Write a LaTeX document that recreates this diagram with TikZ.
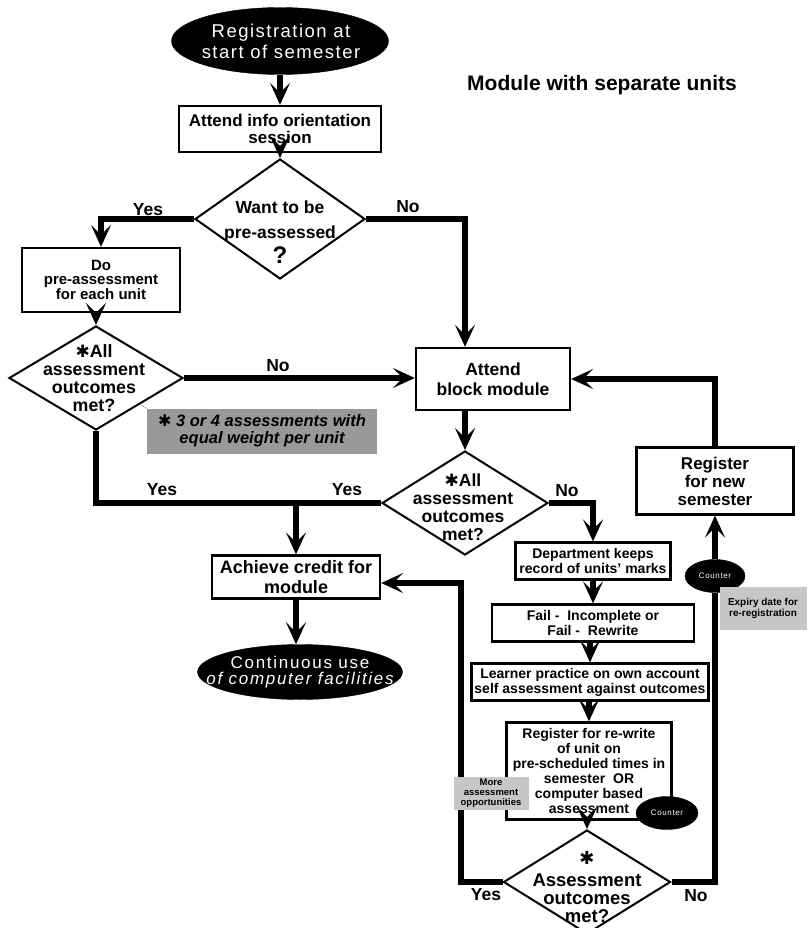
\documentclass[tikz,border=0pt]{standalone}
\usepackage{fontspec}
\setmainfont{Liberation Sans}
\newfontfamily\dingfont{DejaVu Sans}
\usetikzlibrary{shapes.geometric,arrows.meta}
\newcommand{\fsz}[2]{\fontsize{#1}{#2}\selectfont}
\newcommand{\astk}[1]{{\dingfont\fsz{#1}{#1}\bfseries ✱}}
\begin{document}
\begin{tikzpicture}[x=1pt,y=-1pt,
  box/.style={draw, line width=2.3pt, rectangle, align=center, inner sep=1pt, font=\bfseries},
  dia/.style={draw, line width=2pt, diamond, inner sep=0pt},
  oval/.style={ellipse, fill=black, draw=black, inner sep=0pt},
  ovaltext/.style={text=white, align=center, inner sep=0pt},
  diatext/.style={align=center, inner sep=0pt, font=\bfseries},
  conn/.style={line width=5.5pt},
  arr/.style={conn, -{Stealth[length=22pt,width=20pt,inset=10pt]}},
  lbl/.style={font=\bfseries\fsz{17.5}{17.5}, inner sep=0pt},
  note/.style={rectangle, inner sep=0pt, align=center, font=\bfseries}
]
\useasboundingbox (0,0) rectangle (808,928);

% title
\node[font=\bfseries\fsz{21}{21}] (title) at (602,85) {Module with separate units};

% start of the flow
\node[oval, minimum width=217pt, minimum height=67pt] (reg) at (280,41) {};
\node[ovaltext, font=\fsz{18.5}{21}\addfontfeature{LetterSpace=8}] (regt) at (281,41) {Registration at\\start of semester};

\node[box, minimum width=202pt, minimum height=46pt, font=\bfseries\fsz{17}{17.5}] (info) at (280,129) {Attend info orientation\\session};

\node[dia, minimum width=170pt, minimum height=120pt] (want) at (280,219) {};
\node[diatext, font=\bfseries\fsz{17.5}{25}] (wantt) at (280,232) {Want to be\\pre-assessed\\{\fsz{24}{24}?}};

\node[box, minimum width=158pt, minimum height=64pt, font=\bfseries\fsz{15}{13.5}] (pre) at (101,280) {Do\\pre-assessment\\for each unit};

\node[dia, minimum width=174pt, minimum height=104pt] (dia2) at (96,378) {};
\node[diatext, font=\bfseries\fsz{17.8}{18}] (dia2t) at (94,378) {\astk{17}All\\assessment\\outcomes\\met?};

\node[box, minimum width=154pt, minimum height=62pt, font=\bfseries\fsz{17.5}{20}] (block) at (493,379) {Attend\\block module};

\node[dia, minimum width=166pt, minimum height=104pt] (dia3) at (465,503) {};
\node[diatext, font=\bfseries\fsz{17.5}{18}] (dia3t) at (463,507) {\astk{17}All\\assessment\\outcomes\\met?};

\node[box, minimum width=168pt, minimum height=43pt, font=\bfseries\fsz{18}{20}] (credit) at (296,577) {Achieve credit for\\module};

\node[oval, minimum width=205pt, minimum height=55pt] (cont) at (300,672) {};
\node[ovaltext, font=\fsz{17}{16}\addfontfeature{LetterSpace=10}] (contt) at (300,672) {Continuous use\\\itshape of computer facilities};

% failure branch
\node[box, minimum width=155pt, minimum height=37pt, font=\bfseries\fsz{14}{12.5}] (dept) at (593,561) {Department keeps\\record of units' marks};
\node[box, minimum width=202pt, minimum height=37pt, font=\bfseries\fsz{14}{15}] (fail) at (593,623) {Fail -\ \ Incomplete or\\Fail -\ \ Rewrite};
\node[box, minimum width=237pt, minimum height=37pt, font=\bfseries\fsz{14}{15}] (learn) at (590,682) {Learner practice on own account\\self assessment against outcomes};
\node[box, minimum width=165pt, minimum height=97pt, font=\bfseries\fsz{14}{15}] (rew) at (589,771) {Register for re-write\\of unit on\\pre-scheduled times in\\semester\ \ OR\\computer based\\assessment};

\node[oval, minimum width=62pt, minimum height=33pt] (cnt2) at (667,813) {};
\node[ovaltext, font=\fsz{8}{8}\addfontfeature{LetterSpace=8}] (cnt2t) at (667,813) {Counter};

\node[dia, minimum width=167pt, minimum height=104pt] (dia4) at (587,882) {};
\node[diatext, font=\bfseries\fsz{18.5}{18}] (dia4t) at (587,887) {\astk{18}\\[4pt]Assessment\\outcomes\\met?};

\node[box, minimum width=157pt, minimum height=67pt, font=\bfseries\fsz{17}{18}] (newsem) at (715,481) {Register\\for new\\semester};

\node[oval, minimum width=60pt, minimum height=33pt] (cnt1) at (715,576) {};
\node[ovaltext, font=\fsz{8}{8}\addfontfeature{LetterSpace=8}] (cnt1t) at (715,576) {Counter};

% connectors
\draw[arr] (reg.south) -- (info.north);
\draw[arr] (info.south) -- (want.north);
\draw[arr] (want.west) -| (pre.north);
\draw[arr] (want.east) -| (dia3.north |- block.north);
\draw[arr] (pre.south -| dia2.north) -- (dia2.north);
\draw[arr] (dia2.east) -- (dia2.east -| block.west);
\draw[conn] (dia2.south) |- (dia3.west);
\coordinate (yj) at (credit.north |- dia3.west);
\draw[arr] (yj) -- (credit.north);
\draw[arr] (block.south -| dia3.north) -- (dia3.north);
\draw[arr] (dia3.east) -| (dept.north);
\draw[arr] (dept.south) -- (fail.north);
\draw[arr] (fail.south -| learn.north) -- (learn.north);
\draw[arr] (learn.south -| rew.north) -- (rew.north);
\draw[arr] (rew.south -| dia4.north) -- (dia4.north);
\coordinate (yc) at (461,583);
\draw[arr] (dia4.west) -| (yc) -- (yc -| credit.east);
\draw[conn] (dia4.east) -| (cnt1.south);
\draw[arr] (cnt1.north) -- (newsem.south);
\draw[arr] (newsem.north) |- (block.east);
\draw[arr] (credit.south) -- (credit.south |- cont.north);

% branch labels
\node[lbl] (l1) at (148,210) {Yes};
\node[lbl] (l2) at (408,207) {No};
\node[lbl] (l3) at (278,366) {No};
\node[lbl] (l4) at (162,490) {Yes};
\node[lbl] (l5) at (347,490) {Yes};
\node[lbl] (l6) at (567,491) {No};
\node[lbl] (l7) at (486,895) {Yes};
\node[lbl] (l8) at (696,896) {No};

% shaded notes
\node[note, fill=black!40, minimum width=230pt, minimum height=45pt, font=\bfseries\itshape\fsz{16.5}{17}] (note1) at (262,431) {\astk{16} 3 or 4 assessments with\\equal weight per unit};
\node[note, fill=black!22, minimum width=75pt, minimum height=33pt, font=\bfseries\fsz{9.5}{10}] (note2) at (491,793) {More\\assessment\\opportunities};
\node[note, fill=black!22, minimum width=87pt, minimum height=43pt, font=\bfseries\fsz{10}{11}] (note3) at (763,608) {Expiry date for\\re-registration};
\draw[black!50, densely dotted, line width=0.8pt] (dia2.south east) -- (note1.north west);
\end{tikzpicture}
\end{document}
